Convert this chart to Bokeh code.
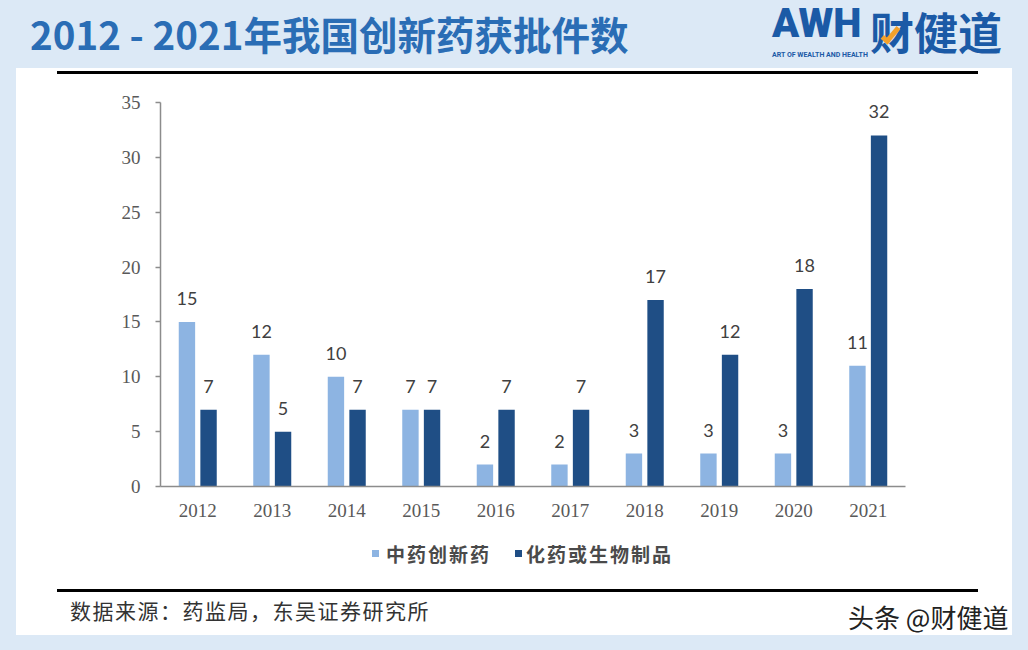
from bokeh.plotting import figure
from bokeh.layouts import column, row
from bokeh.models import (FactorRange, Range1d, FixedTicker, ColumnDataSource, Spacer, Div)
from bokeh.transform import dodge
from bokeh.core.properties import value
from bokeh.embed import file_html
from bokeh.resources import INLINE

# ---------------- data ----------------
years = ["2012", "2013", "2014", "2015", "2016", "2017", "2018", "2019", "2020", "2021"]
tcm_new = [15, 12, 10, 7, 2, 2, 3, 3, 3, 11]
chem_bio = [7, 5, 7, 7, 7, 7, 17, 12, 18, 32]
y_ticks = [0, 5, 10, 15, 20, 25, 30, 35]
series_names = ["中药创新药", "化药或生物制品"]
title_text = "2012 - 2021年我国创新药获批件数"
source_text = "数据来源：药监局，东吴证券研究所"
watermark_text = "头条 @财健道"
logo_latin = "AWH"
logo_cjk = "财健道"
logo_sub = "ART OF WEALTH AND HEALTH"

# ---------------- styles ----------------
LIGHT = "#8db4e2"
DARK = "#1f4e85"
BG = "#dce9f6"
CJK = "'Noto Sans CJK SC'"
LOGO = "#1b5aa6"
PAGE_W, PAGE_H = 1028, 650


def span(x, cy, size, text, color, font=CJK, weight="normal", extra=""):
    top = cy - size / 2.0
    return (f'<span style="position:absolute;left:{x}px;top:{top}px;font-family:{font};'
            f'font-size:{size}px;line-height:{size}px;font-weight:{weight};color:{color};'
            f'white-space:nowrap;{extra}">{text}</span>')


def bar(x0, x1, y0, y1, color="black", extra=""):
    return (f'<div style="position:absolute;left:{x0}px;top:{y0}px;width:{x1 - x0}px;'
            f'height:{y1 - y0}px;background:{color};{extra}"></div>')


def box(w, h, bg, inner):
    html = (f'<div style="position:relative;width:{w}px;height:{h}px;overflow:hidden;'
            f'background:{bg};margin:0;padding:0">{inner}</div>')
    return Div(text=html, width=w, height=h, styles={"margin": "0", "padding": "0"})


# ---------------- header (light blue band) ----------------
check = ('<div style="position:absolute;left:886px;top:24px;width:9px;height:20px;'
         'border-right:5px solid #f2a12c;border-bottom:5px solid #f2a12c;'
         'transform:rotate(40deg);"></div>')
header = box(PAGE_W, 68, BG, "".join([
    span(30, 33, 38.5, title_text, "#2a6db5", weight="bold"),
    span(772, 24, 40, logo_latin, LOGO, font="Roboto", weight="900",
         extra="letter-spacing:0px;"),
    span(870, 31, 44, logo_cjk, LOGO, weight="bold"),
    check,
    span(772, 55, 7, logo_sub, LOGO, font="Roboto", weight="bold"),
]))

# ---------------- top rule strip ----------------
WB = 996  # white block width (x 16..1012)
top_strip = box(WB, 20, "white", bar(41, 962, 3, 6))

# ---------------- main chart ----------------
MW, MH = WB, 442
FL, FR, FT, FB = 144, 889, 14, 398
p = figure(width=MW, height=MH, x_range=FactorRange(*years), y_range=Range1d(0, 35),
           output_backend="svg", toolbar_location=None,
           min_border_left=FL, min_border_right=MW - FR,
           min_border_top=FT, min_border_bottom=MH - FB)
p.border_fill_color = "white"
p.background_fill_color = "white"
p.outline_line_color = None
p.grid.visible = False

src = ColumnDataSource(dict(year=years, tcm=tcm_new, chem=chem_bio,
                            tcm_lbl=[str(v) for v in tcm_new],
                            chem_lbl=[str(v) for v in chem_bio]))

p.vbar(x=dodge("year", -0.145, range=p.x_range), top="tcm", width=0.22,
       source=src, fill_color=LIGHT, line_color=None, legend_label=series_names[0])
p.vbar(x=dodge("year", 0.145, range=p.x_range), top="chem", width=0.22,
       source=src, fill_color=DARK, line_color=None, legend_label=series_names[1])
p.legend.visible = False  # legend is drawn below the chart in the footer

for col, lbl, off in (("tcm", "tcm_lbl", -0.145), ("chem", "chem_lbl", 0.145)):
    p.text(x=dodge("year", off, range=p.x_range), y=col, text=lbl, source=src,
           text_align="center", text_baseline="bottom", y_offset=-17,
           text_font=value("Lato"), text_font_size="18px", text_color="#404040")

for ax in (p.xaxis[0], p.yaxis[0]):
    ax.axis_line_color = "#8c8c8c"
    ax.axis_line_width = 1.5
    ax.minor_tick_line_color = None
    ax.major_label_text_font = "Liberation Serif"
    ax.major_label_text_font_size = "19px"
    ax.major_label_text_color = "#595959"

p.xaxis.major_tick_line_color = None
p.xaxis.major_tick_out = 0
p.xaxis.major_tick_in = 0
p.xaxis.major_label_standoff = 17
p.yaxis.ticker = FixedTicker(ticks=y_ticks)
p.yaxis.major_tick_out = 5
p.yaxis.major_tick_in = 0
p.yaxis.major_tick_line_color = "#8c8c8c"
p.yaxis.major_tick_line_width = 1.5
p.yaxis.major_label_standoff = 15

# ---------------- footer (legend, rule, source, watermark) ----------------
LEG = "letter-spacing:2px;"
footer = box(WB, 105, "white", "".join([
    bar(356, 363, 20, 27, LIGHT),
    span(370, 23, 19, series_names[0], "#4a4a4a", weight="bold", extra=LEG),
    bar(499, 506, 20, 27, DARK),
    span(510, 23, 19, series_names[1], "#4a4a4a", weight="bold", extra=LEG),
    bar(41, 962, 59, 62),
    span(54, 80, 21, source_text, "#333333", extra="letter-spacing:1.5px;"),
    span(832, 87, 26, watermark_text, "#222222"),
]))

# ---------------- page ----------------
white_block = column(top_strip, p, footer, spacing=0,
                     styles={"background-color": "white"})
BLOCK_H = 20 + MH + 105
middle = row(Spacer(width=16, height=BLOCK_H), white_block,
             Spacer(width=PAGE_W - 16 - WB, height=BLOCK_H), spacing=0)
page = column(header, middle, Spacer(width=PAGE_W, height=PAGE_H - 68 - BLOCK_H),
              spacing=0, styles={"background-color": BG})

open("out.html", "w").write(file_html(page, INLINE))
